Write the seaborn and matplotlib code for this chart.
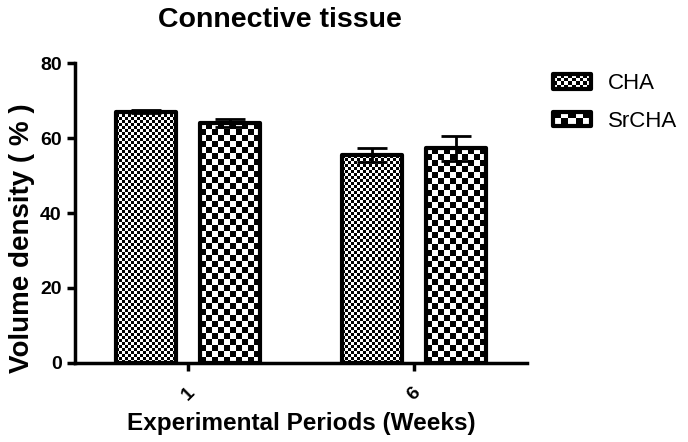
import numpy as np
import pandas as pd
import matplotlib
matplotlib.use("Agg")
import matplotlib.pyplot as plt
import seaborn as sns
from matplotlib.patches import Rectangle, Patch
from matplotlib.image import BboxImage
from matplotlib.transforms import Bbox, TransformedBbox
from matplotlib.legend_handler import HandlerPatch

# data
weeks = ['1', '6']
groups = ['CHA', 'SrCHA']
cha_mean = [67.1, 55.5]
srcha_mean = [64.0, 57.3]
cha_err = [0.4, 1.8]
srcha_err = [1.0, 3.4]

df = pd.DataFrame({
    'week': weeks * 2,
    'group': ['CHA'] * 2 + ['SrCHA'] * 2,
    'value': cha_mean + srcha_mean,
})

# checker cell size in pixels for each group
cell_px = {'CHA': 3, 'SrCHA': 6}


def checker(nx, ny):
    return (np.indices((ny, nx)).sum(axis=0) % 2).astype(float)


sns.set_style('ticks')
plt.rcParams['font.family'] = ['Liberation Sans', 'DejaVu Sans']
plt.rcParams.update({'text.color': 'black', 'axes.labelcolor': 'black',
                     'xtick.color': 'black', 'ytick.color': 'black',
                     'axes.edgecolor': 'black'})

fig = plt.figure(figsize=(6.88, 4.42), dpi=100)
ax = fig.add_axes([0.109, 0.179, 0.657, 0.678])

sns.barplot(data=df, x='week', y='value', hue='group', hue_order=groups,
            palette=['white', 'white'], edgecolor='black', linewidth=3,
            width=0.743, gap=0.288, errorbar=None, legend=False, ax=ax)

ax.set_xlim(-0.5, 1.5)
ax.set_ylim(0, 80)
fig.canvas.draw()

errs = {'CHA': cha_err, 'SrCHA': srcha_err}
means = {'CHA': cha_mean, 'SrCHA': srcha_mean}
for grp, cont in zip(groups, ax.containers):
    xs = []
    for bar in cont:
        x0, y0 = bar.get_x(), bar.get_y()
        w, h = bar.get_width(), bar.get_height()
        p0 = ax.transData.transform((x0, y0))
        p1 = ax.transData.transform((x0 + w, y0 + h))
        nx = max(1, int(round(abs(p1[0] - p0[0]) / cell_px[grp])))
        ny = max(1, int(round(abs(p1[1] - p0[1]) / cell_px[grp])))
        im = ax.imshow(checker(nx, ny), cmap='gray', vmin=0, vmax=1,
                       extent=(x0, x0 + w, y0, y0 + h), origin='lower',
                       interpolation='nearest', aspect='auto', zorder=0.5)
        im.set_clip_path(bar)
        bar.set_facecolor('none')
        bar.set_joinstyle('round')
        bar.set_zorder(1)
        xs.append(x0 + w / 2)
    ax.errorbar(xs, means[grp], yerr=errs[grp], fmt='none', ecolor='black',
                elinewidth=2, capsize=11, capthick=2, zorder=2)

ax.set_xlim(-0.5, 1.5)
ax.set_ylim(0, 80)
ax.set_yticks([0, 20, 40, 60, 80])

sns.despine(ax=ax)
for s in ['left', 'bottom']:
    ax.spines[s].set_linewidth(2.5)
ax.tick_params(axis='both', length=6, width=2.5, labelsize=14)
ax.tick_params(axis='x', pad=9)
for lab in ax.get_xticklabels() + ax.get_yticklabels():
    lab.set_fontweight('bold')
for lab in ax.get_xticklabels():
    lab.set_rotation(45)

ax.set_xlabel('Experimental Periods (Weeks)', fontsize=17.5, fontweight='bold', labelpad=6)
ax.set_ylabel('Volume density ( % )', fontsize=20, fontweight='bold', labelpad=4, y=0.417)
ax.set_title('Connective tissue', fontsize=20.5, fontweight='bold', x=0.454, pad=26)


class CheckerHandler(HandlerPatch):
    def __init__(self, cell):
        super().__init__()
        self.cell = cell

    def create_artists(self, legend, orig_handle, xdescent, ydescent,
                       width, height, fontsize, trans):
        bb = TransformedBbox(Bbox.from_bounds(-xdescent, -ydescent, width, height), trans)
        img = BboxImage(bb, cmap='gray', norm=plt.Normalize(0, 1), interpolation='nearest')
        img.set_data(checker(max(1, int(width / self.cell)), max(1, int(height / self.cell))))
        rect = Rectangle((-xdescent, -ydescent), width, height, facecolor='none',
                         edgecolor='black', linewidth=3, joinstyle='round', transform=trans)
        return [img, rect]


handles = [Patch(label=g) for g in groups]
ax.legend(handles=handles, labels=groups, loc='upper left', bbox_to_anchor=(1.058, 0.967),
          frameon=False, fontsize=16, handlelength=1.68, handleheight=0.64,
          labelspacing=0.75, handletextpad=0.8, borderaxespad=0, borderpad=0,
          handler_map={handles[0]: CheckerHandler(2.5), handles[1]: CheckerHandler(5)})

fig.savefig('out.png', dpi=100)
